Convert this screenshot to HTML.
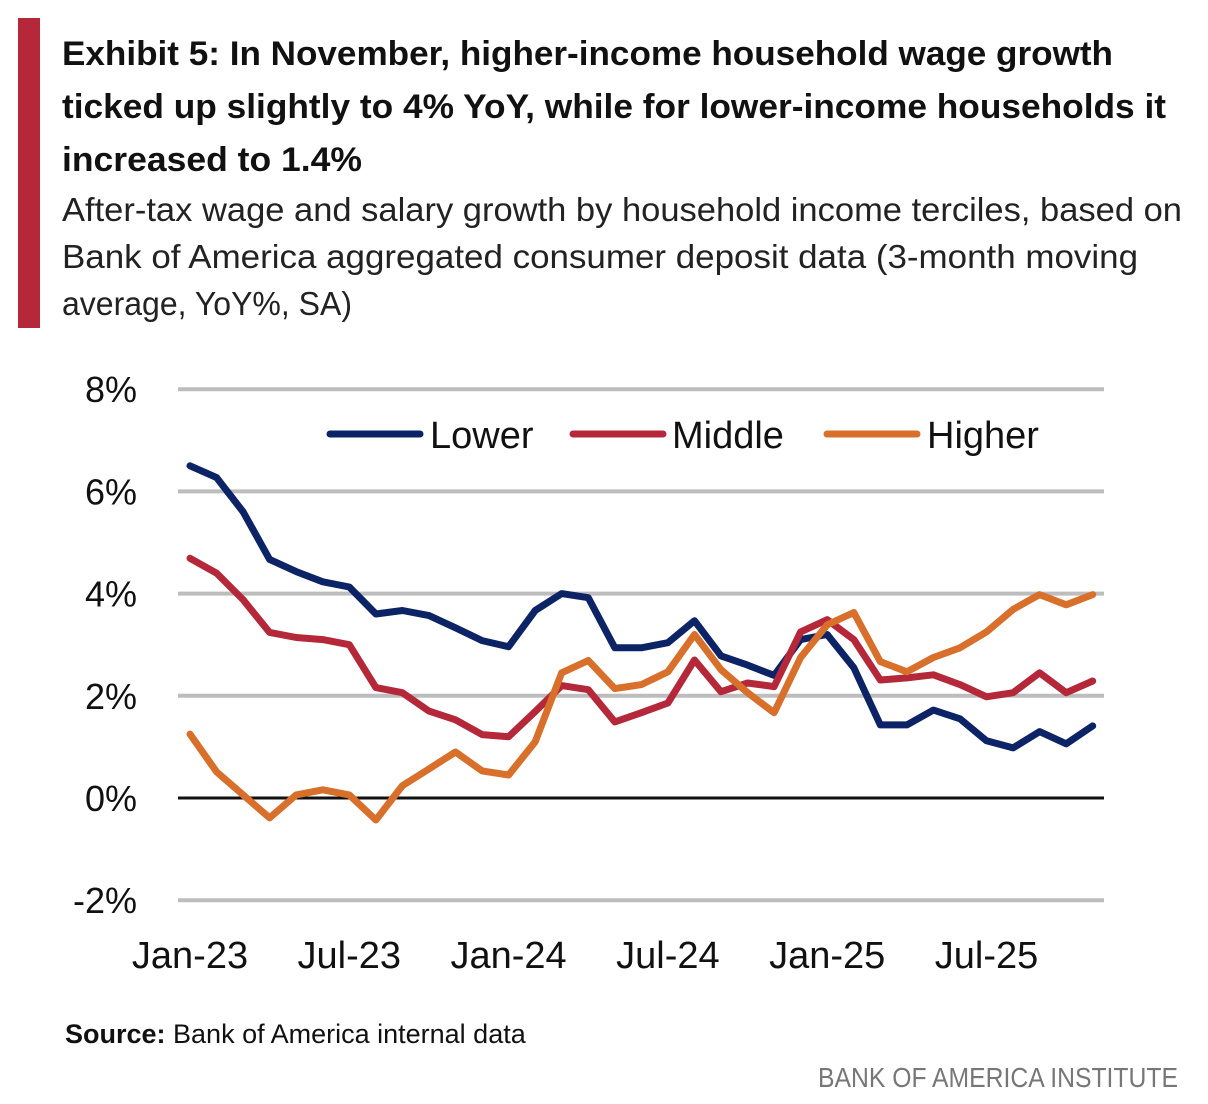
<!DOCTYPE html>
<html><head><meta charset="utf-8"><style>
html,body{margin:0;padding:0;background:#fff;}
svg{display:block;font-family:"Liberation Sans",sans-serif;}
</style></head><body>
<svg id="chart" width="1208" height="1104" viewBox="0 0 1208 1104">
<rect x="18" y="18" width="22" height="310" fill="#b5283a"/>
<g font-weight="bold" font-size="34" fill="#111">
<text x="62" y="65" textLength="1051" lengthAdjust="spacingAndGlyphs">Exhibit 5: In November, higher-income household wage growth</text>
<text x="62" y="118" textLength="1104" lengthAdjust="spacingAndGlyphs">ticked up slightly to 4% YoY, while for lower-income households it</text>
<text x="62" y="171" textLength="300" lengthAdjust="spacingAndGlyphs">increased to 1.4%</text>
</g>
<g font-size="33" fill="#222">
<text x="62" y="221" textLength="1120" lengthAdjust="spacingAndGlyphs">After-tax wage and salary growth by household income terciles, based on</text>
<text x="62" y="268" textLength="1076" lengthAdjust="spacingAndGlyphs">Bank of America aggregated consumer deposit data (3-month moving</text>
<text x="62" y="315" textLength="290" lengthAdjust="spacingAndGlyphs">average, YoY%, SA)</text>
</g>
<g id="grid"></g>
<g id="series"></g>
<g font-size="38" fill="#111">
<line x1="330" y1="434" x2="420" y2="434" stroke="#0c2366" stroke-width="7" stroke-linecap="round"/>
<text x="430" y="448">Lower</text>
<line x1="573" y1="434" x2="663" y2="434" stroke="#b5283a" stroke-width="7" stroke-linecap="round"/>
<text x="672" y="448">Middle</text>
<line x1="827" y1="434" x2="917" y2="434" stroke="#d86f2a" stroke-width="7" stroke-linecap="round"/>
<text x="927" y="448">Higher</text>
</g>
<text x="65" y="1043" font-size="27" fill="#111"><tspan font-weight="bold">Source:</tspan> Bank of America internal data</text>
<text x="1178" y="1087" font-size="28" fill="#777" text-anchor="end" textLength="360" lengthAdjust="spacingAndGlyphs">BANK OF AMERICA INSTITUTE</text>
</svg>
<script>
const yTicks = [8, 6, 4, 2, 0, -2];
const xTickLabels = ["Jan-23", "Jul-23", "Jan-24", "Jul-24", "Jan-25", "Jul-25"];
const xTickIndex = [0, 6, 12, 18, 24, 30];
const lower = [6.5,6.27,5.6,4.67,4.43,4.23,4.13,3.6,3.67,3.57,3.33,3.08,2.96,3.67,4.0,3.92,2.94,2.94,3.04,3.47,2.78,2.6,2.4,3.1,3.2,2.55,1.43,1.43,1.72,1.55,1.12,0.98,1.3,1.06,1.41];
const middle = [4.69,4.4,3.88,3.24,3.14,3.1,3.0,2.16,2.06,1.7,1.53,1.24,1.2,1.69,2.2,2.12,1.49,1.67,1.86,2.7,2.08,2.25,2.18,3.25,3.49,3.1,2.31,2.35,2.41,2.22,1.98,2.06,2.45,2.06,2.29];
const higher = [1.25,0.51,0.06,-0.39,0.06,0.16,0.06,-0.43,0.24,0.57,0.9,0.53,0.45,1.1,2.45,2.69,2.14,2.22,2.47,3.2,2.51,2.06,1.67,2.75,3.39,3.63,2.67,2.47,2.75,2.94,3.25,3.69,3.98,3.78,3.98];

const NS = "http://www.w3.org/2000/svg";
const yScale = v => 798 - v * 51.1;
const xScale = i => 190 + i * 26.55;
const grid = document.getElementById("grid");
yTicks.forEach(t => {
  const l = document.createElementNS(NS, "line");
  l.setAttribute("x1", 178); l.setAttribute("x2", 1104);
  l.setAttribute("y1", yScale(t)); l.setAttribute("y2", yScale(t));
  l.setAttribute("stroke", t === 0 ? "#111" : "#bdbdbd");
  l.setAttribute("stroke-width", t === 0 ? 3 : 4);
  
  
  grid.appendChild(l);
  const tx = document.createElementNS(NS, "text");
  tx.setAttribute("x", 137); tx.setAttribute("y", yScale(t) + 13);
  tx.setAttribute("text-anchor", "end"); tx.setAttribute("font-size", "36"); tx.setAttribute("fill", "#111");
  tx.textContent = t + "%";
  
  
  grid.appendChild(tx);
});
xTickLabels.forEach((lab, k) => {
  const tx = document.createElementNS(NS, "text");
  tx.setAttribute("x", xScale(xTickIndex[k])); tx.setAttribute("y", 968);
  tx.setAttribute("text-anchor", "middle"); tx.setAttribute("font-size", "38"); tx.setAttribute("fill", "#111");
  tx.textContent = lab;
  
  
  grid.appendChild(tx);
});
const sg = document.getElementById("series");
[[lower, "#0c2366", "line-lower"], [middle, "#b5283a", "line-middle"], [higher, "#d86f2a", "line-higher"]].forEach(([d, c, n]) => {
  const p = document.createElementNS(NS, "polyline");
  p.setAttribute("points", d.map((v, i) => xScale(i).toFixed(1) + "," + yScale(v).toFixed(1)).join(" "));
  p.setAttribute("fill", "none"); p.setAttribute("stroke", c); p.setAttribute("stroke-width", 7);
  p.setAttribute("stroke-linejoin", "round"); p.setAttribute("stroke-linecap", "round");
  
  
  sg.appendChild(p);
});
</script>
</body></html>
